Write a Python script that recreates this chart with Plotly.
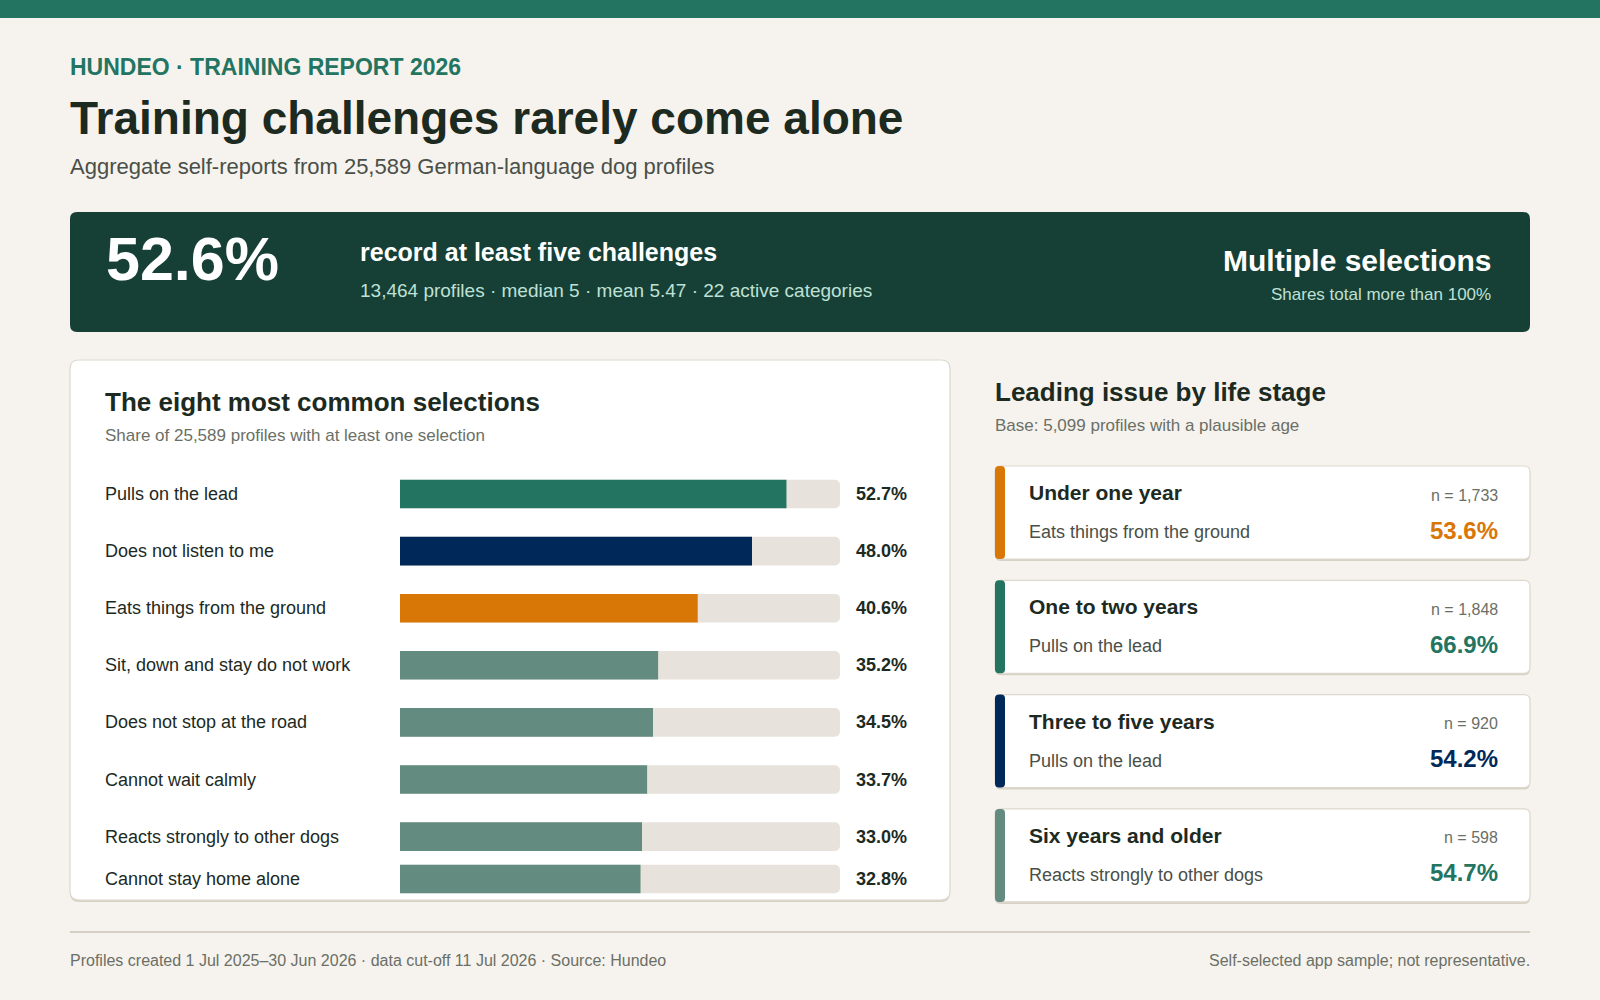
import plotly.graph_objects as go

# ---------------- data ----------------
kicker = "HUNDEO · TRAINING REPORT 2026"
title = "Training challenges rarely come alone"
subtitle = "Aggregate self-reports from 25,589 German-language dog profiles"

kpi_value = "52.6%"
kpi_label = "record at least five challenges"
kpi_detail = "13,464 profiles · median 5 · mean 5.47 · 22 active categories"
note_title = "Multiple selections"
note_text = "Shares total more than 100%"

bars_title = "The eight most common selections"
bars_subtitle = "Share of 25,589 profiles with at least one selection"
categories = [
    "Pulls on the lead",
    "Does not listen to me",
    "Eats things from the ground",
    "Sit, down and stay do not work",
    "Does not stop at the road",
    "Cannot wait calmly",
    "Reacts strongly to other dogs",
    "Cannot stay home alone",
]
shares = [52.7, 48.0, 40.6, 35.2, 34.5, 33.7, 33.0, 32.8]
bar_colors = ["#237562", "#00295a", "#d97706", "#638b7f",
              "#638b7f", "#638b7f", "#638b7f", "#638b7f"]
scale_max = 60

stage_title = "Leading issue by life stage"
stage_subtitle = "Base: 5,099 profiles with a plausible age"
stages = ["Under one year", "One to two years", "Three to five years", "Six years and older"]
stage_n = ["n = 1,733", "n = 1,848", "n = 920", "n = 598"]
stage_issue = ["Eats things from the ground", "Pulls on the lead", "Pulls on the lead",
               "Reacts strongly to other dogs"]
stage_share = [53.6, 66.9, 54.2, 54.7]
stage_colors = ["#d97706", "#237562", "#00295a", "#638b7f"]
stage_text_colors = ["#d97706", "#237562", "#00295a", "#237562"]

footer_left = "Profiles created 1 Jul 2025–30 Jun 2026 · data cut-off 11 Jul 2026 · Source: Hundeo"
footer_right = "Self-selected app sample; not representative."

# ---------------- layout helpers ----------------
W, H = 1600, 1000
FONT = "Liberation Sans, Arial, Helvetica, sans-serif"
BG = "#f6f3ee"
DARK = "#1c2a1f"
GREY = "#6b6f66"
MID = "#4a4f48"
PAD = 2  # annotation inner padding compensation


def X(px):
    return px / W


def Y(py):
    return 1 - py / H


def rrect(x0, y0, x1, y1, r, fill, line=None, lw=0):
    p = (f"M {X(x0 + r)},{Y(y0)} L {X(x1 - r)},{Y(y0)} Q {X(x1)},{Y(y0)} {X(x1)},{Y(y0 + r)} "
         f"L {X(x1)},{Y(y1 - r)} Q {X(x1)},{Y(y1)} {X(x1 - r)},{Y(y1)} "
         f"L {X(x0 + r)},{Y(y1)} Q {X(x0)},{Y(y1)} {X(x0)},{Y(y1 - r)} "
         f"L {X(x0)},{Y(y0 + r)} Q {X(x0)},{Y(y0)} {X(x0 + r)},{Y(y0)} Z")
    return dict(type="path", path=p, xref="paper", yref="paper", fillcolor=fill,
                line=dict(color=line or fill, width=lw), layer="below")


annotations = []


def txt(x, y, s, size, color, bold=False, anchor="left", yref="paper"):
    xx = x - PAD if anchor == "left" else x + PAD
    annotations.append(dict(
        x=X(xx), y=(Y(y) if yref == "paper" else y), xref="paper", yref=yref,
        text=(f"<b>{s}</b>" if bold else s), showarrow=False,
        xanchor=anchor, yanchor="middle",
        font=dict(family=FONT, size=size, color=color)))


shapes = []
# top band
shapes.append(dict(type="rect", xref="paper", yref="paper", x0=0, x1=1, y0=Y(18), y1=Y(0),
                   fillcolor="#237562", line=dict(width=0), layer="below"))

# header
txt(70, 67, kicker, 23, "#237562", bold=True)
txt(70, 118, title, 46, DARK, bold=True)
txt(70, 166, subtitle, 22, MID)

# KPI banner
shapes.append(rrect(70, 212, 1530, 332, 7, "#163f36"))
txt(106, 259, kpi_value, 61, "#ffffff", bold=True)
txt(360, 252, kpi_label, 25, "#ffffff", bold=True)
txt(360, 290, kpi_detail, 19, "#bfe1d5")
txt(1491, 260, note_title, 30, "#ffffff", bold=True, anchor="right")
txt(1491, 294, note_text, 17, "#bfe1d5", anchor="right")

# left card
CARD_L, CARD_T, CARD_R, CARD_B = 70, 360, 950, 900
shapes.append(rrect(CARD_L, CARD_T + 2, CARD_R, CARD_B + 2, 9, "#d8d2c6"))
shapes.append(rrect(CARD_L, CARD_T, CARD_R, CARD_B, 9, "#ffffff", "#ddd8ce", 1.2))
txt(105, 402, bars_title, 26, DARK, bold=True)
txt(105, 436, bars_subtitle, 17, GREY)

FIRST_ROW, ROW_STEP = 494, 57.1
row_y = [FIRST_ROW + ROW_STEP * i for i in range(len(categories))]
row_y[-1] = min(row_y[-1], CARD_B - 21)

for cat, val, yy in zip(categories, shares, row_y):
    txt(105, 0, cat, 18, DARK)
    annotations[-1]["y"] = yy
    annotations[-1]["yref"] = "y"
    txt(856, 0, f"{val:.1f}%", 18, DARK, bold=True)
    annotations[-1]["y"] = yy
    annotations[-1]["yref"] = "y"

# right column
txt(995, 392, stage_title, 26, DARK, bold=True)
txt(995, 426, stage_subtitle, 17, GREY)
CT, CH, CS = 466, 93, 114.3
for i, (st, n, iss, sh, col, tcol) in enumerate(zip(stages, stage_n, stage_issue, stage_share,
                                                    stage_colors, stage_text_colors)):
    top = CT + CS * i
    shapes.append(rrect(995, top + 2, 1530, top + CH + 2, 6, "#d8d2c6"))
    shapes.append(rrect(995, top, 1530, top + CH, 6, "#ffffff", "#ddd8ce", 1.2))
    shapes.append(rrect(995, top, 1005, top + CH, 4, col))
    txt(1029, top + 26.5, st, 21, DARK, bold=True)
    txt(1498, top + 29, n, 16, GREY, anchor="right")
    txt(1029, top + 66, iss, 18, MID)
    txt(1498, top + 64, f"{sh:.1f}%", 24, tcol, bold=True, anchor="right")

# footer
shapes.append(dict(type="line", xref="paper", yref="paper", x0=X(70), x1=X(1530),
                   y0=Y(932), y1=Y(932), line=dict(color="#d6d0c4", width=2)))
txt(70, 960, footer_left, 16, GREY)
txt(1530, 960, footer_right, 16, GREY, anchor="right")

# ---------------- bars ----------------
fig = go.Figure()
fig.add_trace(go.Bar(
    x=[scale_max] * len(categories), y=row_y, orientation="h", width=28.6,
    marker=dict(color="#e7e3dc", cornerradius=5, line=dict(width=0)),
    hoverinfo="skip", showlegend=False))
fig.add_trace(go.Bar(
    x=shares, y=row_y, orientation="h", width=28.6,
    marker=dict(color=bar_colors, cornerradius=5, line=dict(width=0)),
    customdata=categories, hovertemplate="%{customdata}: %{x:.1f}%<extra></extra>",
    showlegend=False))

fig.update_layout(
    width=W, height=H, margin=dict(l=0, r=0, t=0, b=0), autosize=False,
    paper_bgcolor=BG, plot_bgcolor="rgba(0,0,0,0)", barmode="overlay",
    xaxis=dict(domain=[X(400), X(840)], range=[0, scale_max], visible=False, fixedrange=True),
    yaxis=dict(domain=[Y(CARD_B), Y(460)], range=[CARD_B, 460], visible=False, fixedrange=True),
    shapes=shapes, annotations=annotations,
    font=dict(family=FONT),
)

fig.write_html("out.html", config={"displayModeBar": False},
               post_script="document.body.style.margin='0';document.body.style.overflow='hidden';")
